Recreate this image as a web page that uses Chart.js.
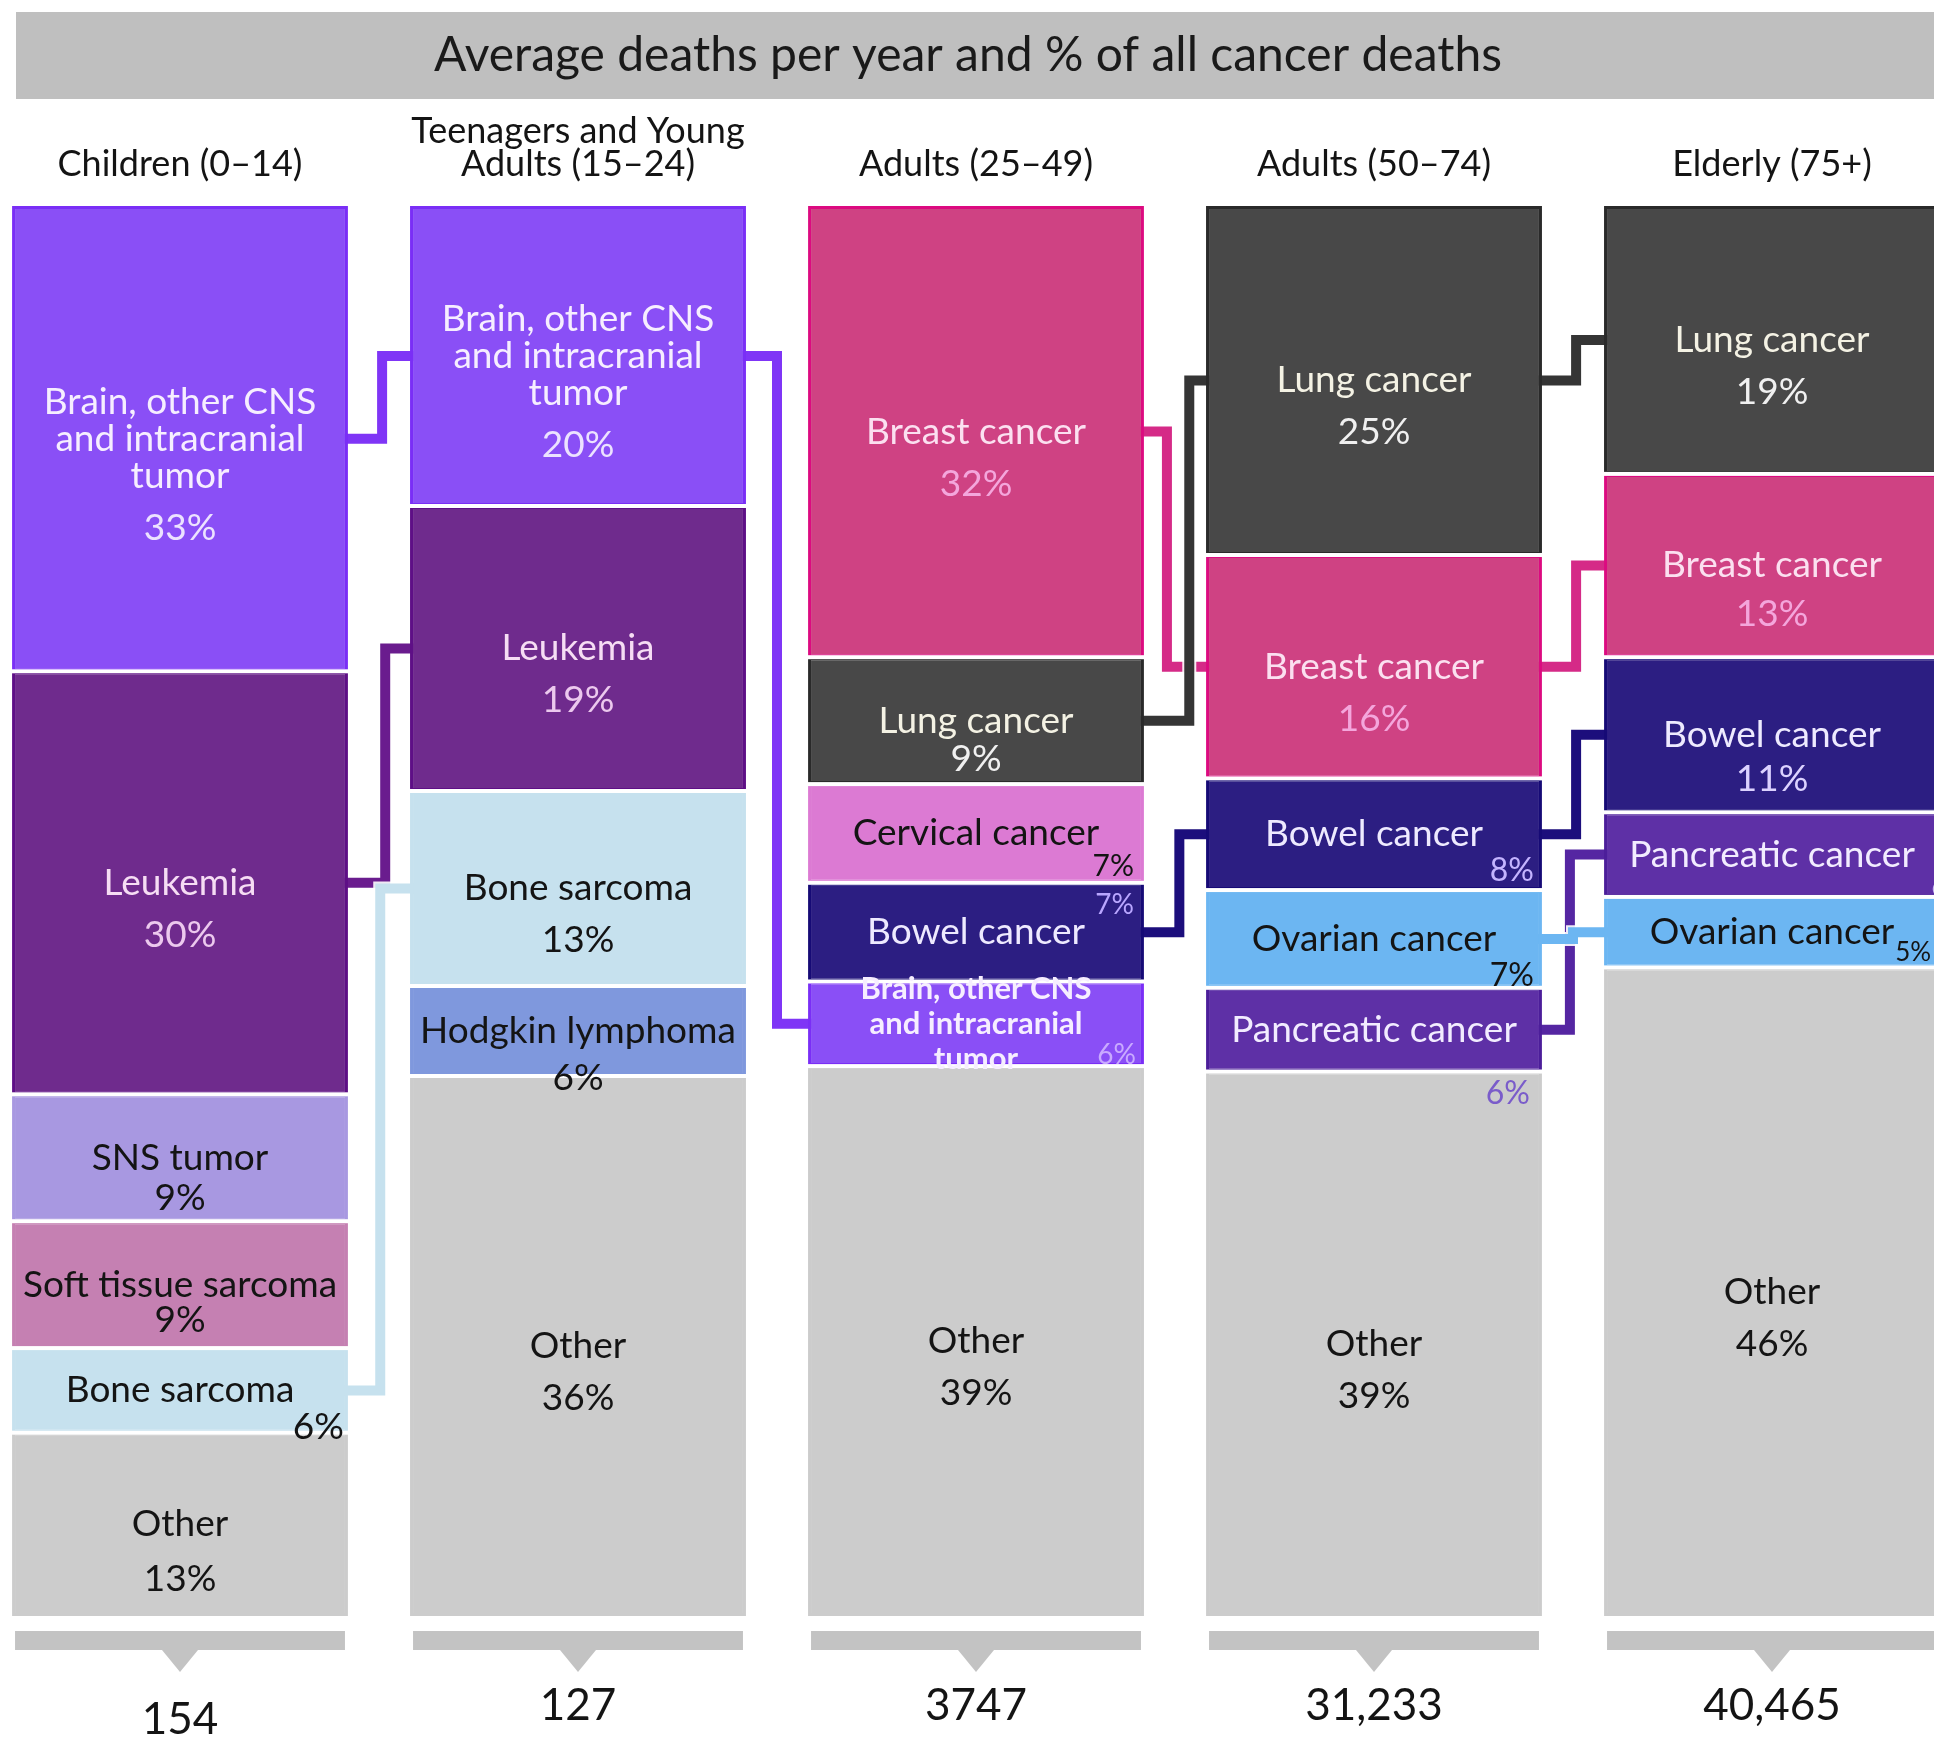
<!DOCTYPE html>
<html>
<head>
<meta charset="utf-8">
<title>Average deaths per year and % of all cancer deaths</title>
<script src="https://cdn.jsdelivr.net/npm/chart.js@4.4.1/dist/chart.umd.min.js"></script>
<style>
  html, body { margin: 0; padding: 0; background: #fff; overflow: hidden; }
  #wrap { position: relative; width: 1934px; height: 1741px; overflow: hidden; }
  #chart { position: absolute; left: -19px; top: 0; }
</style>
</head>
<body>
<div id="wrap"><canvas id="chart" width="1990" height="1741"></canvas></div>
<script>
// ---- data ----
const chartTitle = 'Average deaths per year and % of all cancer deaths';
const groups = [
    ['Children (0–14)'],
    ['Teenagers and Young', 'Adults (15–24)'],
    ['Adults (25–49)'],
    ['Adults (50–74)'],
    ['Elderly (75+)']
];
const totals = ['154', '127', '3747', '31,233', '40,465'];

const BRAIN = 'Brain, other CNS and intracranial tumor';
// segments of each column, top to bottom
const segNames = [
    [BRAIN, 'Leukemia', 'SNS tumor', 'Soft tissue sarcoma', 'Bone sarcoma', 'Other'],
    [BRAIN, 'Leukemia', 'Bone sarcoma', 'Hodgkin lymphoma', 'Other'],
    ['Breast cancer', 'Lung cancer', 'Cervical cancer', 'Bowel cancer', BRAIN, 'Other'],
    ['Lung cancer', 'Breast cancer', 'Bowel cancer', 'Ovarian cancer', 'Pancreatic cancer', 'Other'],
    ['Lung cancer', 'Breast cancer', 'Bowel cancer', 'Pancreatic cancer', 'Ovarian cancer', 'Other']
];
// % of all cancer deaths (as printed)
const segShares = [
    [33, 30, 9, 9, 6, 13],
    [20, 19, 13, 6, 36],
    [32, 9, 7, 7, 6, 39],
    [25, 16, 8, 7, 6, 39],
    [19, 13, 11, 6, 5, 46]
];

// ---- styles ----
const FONT = 'Lato, "Open Sans", sans-serif';
const catStyle = {
    [BRAIN]: { fill: '#8a4ff6', edge: '#7a2ef6', link: '#7f35f6', text: '#f6eeff', pct: '#ece2ff',
               lines: ['Brain, other CNS', 'and intracranial', 'tumor'] },
    'Leukemia': { fill: '#6f2b8d', edge: '#5e0f86', link: '#6a1c8e', text: '#f6ddf4', pct: '#ecc9ee' },
    'SNS tumor': { fill: '#a898e1', edge: '#a898e1', text: '#141414' },
    'Soft tissue sarcoma': { fill: '#c580b2', edge: '#c580b2', text: '#141414' },
    'Bone sarcoma': { fill: '#c6e1ee', edge: '#c6e1ee', link: '#c6e1ee', text: '#141414' },
    'Hodgkin lymphoma': { fill: '#7f98dd', edge: '#7f98dd', text: '#141414' },
    'Breast cancer': { fill: '#cf4283', edge: '#dc0a80', link: '#d52a87', text: '#fbe0f0', pct: '#f4a6dc' },
    'Lung cancer': { fill: '#484848', edge: '#2a2a2a', link: '#353535', text: '#f4f2e4', pct: '#f0f0f0' },
    'Cervical cancer': { fill: '#dc7ad3', edge: '#dc7ad3', text: '#141414' },
    'Bowel cancer': { fill: '#2c1e82', edge: '#160a76', link: '#1c0e7c', text: '#eeeaff', pct: '#dcd2ff' },
    'Ovarian cancer': { fill: '#6cb6f2', edge: '#6cb6f2', link: '#6cb6f2', text: '#141414' },
    'Pancreatic cancer': { fill: '#5e30a6', edge: '#4c1e9a', link: '#5526a2', text: '#f2ecff' },
    'Other': { fill: '#cccccc', edge: '#cccccc', text: '#141414' }
};
// per column label tweaks
const labelTweaks = {
    '0|SNS tumor': { gap: 40 },
    '0|Soft tissue sarcoma': { gap: 35 },
    '0|Bone sarcoma': { pctMode: 'br', pctDy: -6, pctRight: 4 },
    '0|Other': { gap: 55 },
    '1|Hodgkin lymphoma': { gap: 47 },
    '2|Lung cancer': { gap: 38 },
    '2|Cervical cancer': { pctMode: 'br', pctDy: -16, pctSize: 30, pctRight: 10 },
    '2|Bowel cancer': { pctMode: 'tr', pctDy: 22, pctSize: 28, pctRight: 10, pct: '#b9a6ff' },
    ['2|' + BRAIN]: { bold: true, size: 31, lh: 35, pctMode: 'br', pctDy: -11, pctSize: 28, pctRight: 8, pct: '#c9aaff' },
    '3|Bowel cancer': { pctMode: 'br', pctDy: -19, pctSize: 32, pctRight: 8, pct: '#c4b4ff' },
    '3|Ovarian cancer': { pctMode: 'br', pctDy: -12, pctSize: 32, pctRight: 8 },
    '3|Pancreatic cancer': { pctMode: 'br', pctDy: 22, pctSize: 32, pctRight: 12, pct: '#7a5cca' },
    '4|Bowel cancer': { gap: 44 },
    '4|Breast cancer': { gap: 49 },
    '4|Pancreatic cancer': { pctMode: 'br', pctDy: -10, pctSize: 28, pctRight: -30, pct: '#c6b4f0' },
    '4|Ovarian cancer': { pctMode: 'sub', pctDy: 20, pctSize: 26 }
};
// where the step of each connector sits inside the gap (0 = left bar, 1 = right bar)
const linkBend = {
    ['0|' + BRAIN]: 0.55, '0|Leukemia': 0.6, '0|Bone sarcoma': 0.52,
    ['1|' + BRAIN]: 0.5,
    '2|Breast cancer': 0.37, '2|Lung cancer': 0.73, '2|Bowel cancer': 0.57,
    '3|Lung cancer': 0.55, '3|Breast cancer': 0.55, '3|Bowel cancer': 0.55,
    '3|Pancreatic cancer': 0.45, '3|Ovarian cancer': 0.5
};

// ---- build stacked datasets by slot (slot 0 = bottom of each column) ----
const maxSlots = Math.max(...segNames.map(n => n.length));
const datasets = [];
for (let s = 0; s < maxSlots; s++) {
    const data = [], bg = [], bc = [];
    segNames.forEach((names, c) => {
        const idx = names.length - 1 - s;
        const sum = segShares[c].reduce((a, b) => a + b, 0);
        if (idx < 0) {
            data.push(null); bg.push('transparent'); bc.push('transparent');
        } else {
            data.push(segShares[c][idx] / sum * 100);
            bg.push(catStyle[names[idx]].fill);
            bc.push(catStyle[names[idx]].edge);
        }
    });
    datasets.push({
        data: data,
        backgroundColor: bg,
        borderColor: bc,
        borderWidth: 3,
        borderSkipped: false,
        categoryPercentage: 1.0,
        barPercentage: 0.844
    });
}

function segRect(chart, col, name) {
    const names = segNames[col];
    const idx = names.indexOf(name);
    if (idx < 0) return null;
    const slot = names.length - 1 - idx;
    const bar = chart.getDatasetMeta(slot).data[col];
    const p = bar.getProps(['x', 'y', 'base', 'width'], true);
    return {
        left: p.x - p.width / 2, right: p.x + p.width / 2, cx: p.x,
        top: Math.min(p.y, p.base), bottom: Math.max(p.y, p.base)
    };
}

const decor = {
    id: 'decor',
    beforeDatasetsDraw(chart) {
        const ctx = chart.ctx;
        const xs = chart.scales.x;
        ctx.save();
        // title bar
        ctx.fillStyle = '#bfbfbf';
        ctx.fillRect(35, 12, chart.width - 35, 87);
        ctx.fillStyle = '#1a1a1a';
        ctx.font = '48px ' + FONT;
        ctx.textAlign = 'center';
        ctx.textBaseline = 'middle';
        ctx.fillText(chartTitle, 987, 56);

        // group headers
        ctx.font = '36px ' + FONT;
        ctx.fillStyle = '#141414';
        groups.forEach((g, i) => {
            const x = xs.getPixelForValue(i);
            const y0 = 164 - (g.length - 1) * 33;
            g.forEach((t, k) => ctx.fillText(t, x, y0 + k * 33));
        });

        // connectors between same categories of neighbouring columns
        for (let c = 0; c < segNames.length - 1; c++) {
            const shared = segNames[c].filter(n => n !== 'Other' && segNames[c + 1].includes(n));
            // ovarian drawn last so it crosses over
            shared.sort((a, b) => (a === 'Ovarian cancer') - (b === 'Ovarian cancer'));
            shared.forEach(name => {
                const a = segRect(chart, c, name), b = segRect(chart, c + 1, name);
                const y1 = (a.top + a.bottom) / 2, y2 = (b.top + b.bottom) / 2;
                const f = linkBend[c + '|' + name] ?? 0.5;
                const bx = a.right + (b.left - a.right) * f;
                ctx.beginPath();
                ctx.moveTo(a.right - 4, y1);
                ctx.lineTo(bx, y1);
                ctx.lineTo(bx, y2);
                ctx.lineTo(b.left + 4, y2);
                ctx.lineWidth = 14;
                ctx.strokeStyle = 'rgba(255,255,255,0.9)';
                ctx.lineJoin = 'miter';
                ctx.stroke();
                ctx.lineWidth = 10;
                ctx.strokeStyle = catStyle[name].link || catStyle[name].edge;
                ctx.stroke();
            });
        }

        // bottom brackets with pointer and totals
        const bottom = chart.chartArea.bottom;
        segNames.forEach((names, c) => {
            const r = segRect(chart, c, 'Other');
            ctx.fillStyle = '#c3c3c3';
            ctx.fillRect(r.left + 3, bottom + 15, r.right - r.left - 6, 19);
            ctx.beginPath();
            ctx.moveTo(r.cx - 18, bottom + 34);
            ctx.lineTo(r.cx + 18, bottom + 34);
            ctx.lineTo(r.cx, bottom + 56);
            ctx.closePath();
            ctx.fill();
            ctx.fillStyle = '#141414';
            ctx.font = '44px ' + FONT;
            ctx.fillText(totals[c], r.cx, bottom + (c === 0 ? 104 : 90));
        });
        ctx.restore();
    },
    afterDatasetsDraw(chart) {
        const ctx = chart.ctx;
        ctx.save();
        segNames.forEach((names, c) => {
            names.forEach((name, i) => {
                const r = segRect(chart, c, name);
                // white separator under each segment
                if (i < names.length - 1) {
                    ctx.fillStyle = '#ffffff';
                    ctx.fillRect(r.left - 1, r.bottom - 2, r.right - r.left + 2, 4);
                }
            });
        });
        segNames.forEach((names, c) => {
            names.forEach((name, i) => {
                const r = segRect(chart, c, name);
                const st = Object.assign({}, catStyle[name], labelTweaks[c + '|' + name] || {});
                const lines = st.lines || [name];
                const fs = st.size || 37, lh = st.lh || 37;
                const font = (st.bold ? 'bold ' : '') + fs + 'px ' + FONT;
                ctx.font = font;
                ctx.textAlign = 'center';
                ctx.textBaseline = 'middle';
                ctx.fillStyle = st.text;
                const cy = (r.top + r.bottom) / 2;
                const y0 = cy - (lines.length - 1) * lh / 2;
                lines.forEach((t, k) => ctx.fillText(t, r.cx, y0 + k * lh));
                const last = y0 + (lines.length - 1) * lh;
                const pctText = segShares[c][i] + '%';
                ctx.fillStyle = st.pct || st.text;
                ctx.font = (st.pctSize || fs) + 'px ' + FONT;
                if (st.pctMode === 'br' || st.pctMode === 'tr') {
                    ctx.textAlign = 'right';
                    const y = st.pctMode === 'br' ? r.bottom + st.pctDy : r.top + st.pctDy;
                    ctx.fillText(pctText, r.right - (st.pctRight || 0), y);
                } else if (st.pctMode === 'sub') {
                    ctx.font = font;
                    const w = ctx.measureText(lines[lines.length - 1]).width;
                    ctx.font = (st.pctSize || fs) + 'px ' + FONT;
                    ctx.textAlign = 'left';
                    ctx.fillText(pctText, r.cx + w / 2 + 1, last + st.pctDy);
                } else {
                    ctx.fillText(pctText, r.cx, last + (st.gap || 52));
                }
            });
        });
        ctx.restore();
    }
};

new Chart(document.getElementById('chart'), {
    type: 'bar',
    data: { labels: groups.map(g => g.join(' ')), datasets: datasets },
    options: {
        responsive: false,
        animation: false,
        devicePixelRatio: 1,
        layout: { padding: { top: 206, bottom: 125, left: 0, right: 0 } },
        plugins: { legend: { display: false }, tooltip: { enabled: false }, title: { display: false } },
        scales: {
            x: { stacked: true, display: false, offset: true },
            y: { stacked: true, display: false, min: 0, max: 100 }
        }
    },
    plugins: [decor]
});
</script>
</body>
</html>
